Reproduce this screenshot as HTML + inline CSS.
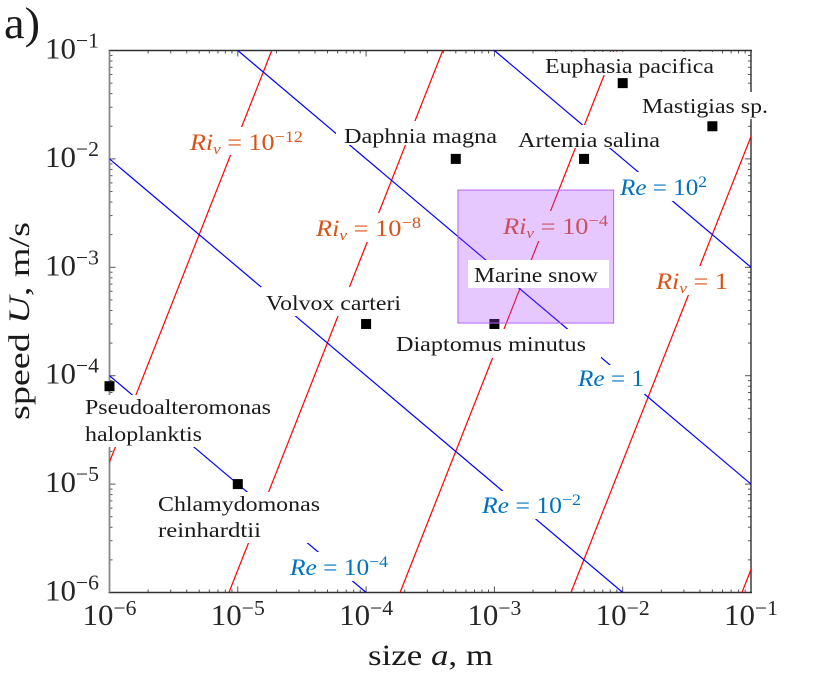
<!DOCTYPE html>
<html>
<head>
<meta charset="utf-8">
<title>Size and speed chart</title>
<style>
html,body{margin:0;padding:0;background:#fff;width:830px;height:677px;overflow:hidden}
svg{display:block}
text{font-family:"Liberation Serif",serif;fill:#1a1a1a}
.sp{font-size:21.5px}
.ri{font-size:23px;fill:#d95319}
.re{font-size:23px;fill:#0072bd}
.tk{font-size:30px;fill:#262626}
.i{font-style:italic}
</style>
</head>
<body>
<svg id="chart" xmlns="http://www.w3.org/2000/svg" width="830" height="677" viewBox="0 0 830 677">
<defs><clipPath id="plot-clip"><rect x="109.5" y="50.5" width="641.5" height="542"/></clipPath></defs>
<rect x="0" y="0" width="830" height="677" fill="#fff"/>
<g id="axes"></g>
<g id="lines" clip-path="url(#plot-clip)"></g>
<g id="masks" fill="#fff">
<rect x="187" y="127" width="118" height="28"/>
<rect x="336" y="121" width="163" height="24"/>
<rect x="516" y="125" width="146" height="23"/>
<rect x="543" y="52" width="173" height="23"/>
<rect x="640" y="92" width="130" height="27"/>
<rect x="619" y="172" width="91" height="29"/>
<rect x="314" y="213" width="110" height="29"/>
<rect x="501" y="211" width="109" height="30"/>
<rect x="654" y="266" width="76" height="29"/>
<rect x="576" y="365" width="69" height="29"/>
<rect x="480" y="491" width="103" height="28"/>
<rect x="288" y="552" width="102" height="29"/>
<rect x="157" y="492" width="165" height="51"/>
<rect x="83" y="395" width="190" height="52"/>
<rect x="261" y="287" width="142" height="29"/>
<rect x="393" y="329" width="208" height="29"/>
</g>
<g id="points"></g>
<g id="labels">
<text class="sp" x="344" y="143" textLength="153" lengthAdjust="spacingAndGlyphs">Daphnia magna</text>
<text class="sp" x="518" y="147" textLength="142" lengthAdjust="spacingAndGlyphs">Artemia salina</text>
<text class="sp" x="545" y="73" textLength="169" lengthAdjust="spacingAndGlyphs">Euphasia pacifica</text>
<text class="sp" x="642" y="113" textLength="126" lengthAdjust="spacingAndGlyphs">Mastigias sp.</text>
<text class="sp" x="266" y="310" textLength="135" lengthAdjust="spacingAndGlyphs">Volvox carteri</text>
<text class="sp" x="396" y="351" textLength="190" lengthAdjust="spacingAndGlyphs">Diaptomus minutus</text>
<text class="sp" x="85" y="414" textLength="186" lengthAdjust="spacingAndGlyphs">Pseudoalteromonas</text>
<text class="sp" x="85" y="441" textLength="117" lengthAdjust="spacingAndGlyphs">haloplanktis</text>
<text class="sp" x="158" y="511" textLength="162" lengthAdjust="spacingAndGlyphs">Chlamydomonas</text>
<text class="sp" x="158" y="537" textLength="103" lengthAdjust="spacingAndGlyphs">reinhardtii</text>

<text class="ri" x="190" y="150" textLength="113" lengthAdjust="spacingAndGlyphs"><tspan class="i">Ri</tspan><tspan class="i" font-size="15" dy="4">v</tspan><tspan dy="-4"> = 10</tspan><tspan font-size="16" dy="-8">−12</tspan></text>
<text class="ri" x="316" y="236" textLength="105" lengthAdjust="spacingAndGlyphs"><tspan class="i">Ri</tspan><tspan class="i" font-size="15" dy="4">v</tspan><tspan dy="-4"> = 10</tspan><tspan font-size="16" dy="-8">−8</tspan></text>
<text class="ri" x="503" y="234" textLength="105" lengthAdjust="spacingAndGlyphs"><tspan class="i">Ri</tspan><tspan class="i" font-size="15" dy="4">v</tspan><tspan dy="-4"> = 10</tspan><tspan font-size="16" dy="-8">−4</tspan></text>
<text class="ri" x="656" y="289" textLength="72" lengthAdjust="spacingAndGlyphs"><tspan class="i">Ri</tspan><tspan class="i" font-size="15" dy="4">v</tspan><tspan dy="-4"> = 1</tspan></text>
<text class="re" x="620" y="195" textLength="87" lengthAdjust="spacingAndGlyphs"><tspan class="i">Re</tspan> = 10<tspan font-size="16" dy="-8">2</tspan></text>
<text class="re" x="578" y="386" textLength="66" lengthAdjust="spacingAndGlyphs"><tspan class="i">Re</tspan> = 1</text>
<text class="re" x="482" y="513" textLength="99" lengthAdjust="spacingAndGlyphs"><tspan class="i">Re</tspan> = 10<tspan font-size="16" dy="-8">−2</tspan></text>
<text class="re" x="290" y="575" textLength="98" lengthAdjust="spacingAndGlyphs"><tspan class="i">Re</tspan> = 10<tspan font-size="16" dy="-8">−4</tspan></text>
</g>
<g id="region"></g>
<rect x="468" y="260" width="141" height="28" fill="#fff"/>
<text class="sp" x="474" y="282" textLength="124" lengthAdjust="spacingAndGlyphs">Marine snow</text>
<text x="4" y="38" font-size="44" textLength="36" lengthAdjust="spacingAndGlyphs">a)</text>
<text x="368" y="665" font-size="30" textLength="125" lengthAdjust="spacingAndGlyphs">size <tspan class="i">a</tspan>, m</text>
<text transform="translate(29,420) rotate(-90)" x="0" y="0" font-size="30" textLength="198" lengthAdjust="spacingAndGlyphs">speed <tspan class="i">U</tspan>, m/s</text>
</svg>
<script>
var xDecades = [-6, -5, -4, -3, -2, -1];
var yDecades = [-6, -5, -4, -3, -2, -1];
var minorMultipliers = [2, 3, 4, 5, 6, 7, 8, 9];

var reStartSizes = [1e-6, 1e-6, 1e-5, 1e-3];
var reStartSpeeds = [1e-4, 1e-2, 1e-1, 1e-1];
var reEndSizes = [1e-4, 1e-2, 1e-1, 1e-1];
var reEndSpeeds = [1e-6, 1e-6, 1e-5, 1e-3];

var riStartSizes = [3.97e-7, 8.53e-6, 1.84e-4, 3.95e-3, 8.5e-2];
var riStartSpeeds = [1e-6, 1e-6, 1e-6, 1e-6, 1e-6];
var riEndSizes = [1.84e-5, 3.96e-4, 8.53e-3, 1.84e-1, 3.96];
var riEndSpeeds = [1e-1, 1e-1, 1e-1, 1e-1, 1e-1];

var organismNames = ["daphnia", "artemia", "euphasia", "mastigias", "volvox", "diaptomus", "pseudoalteromonas", "chlamydomonas"];
var organismSizes = [5e-4, 5e-3, 1e-2, 5e-2, 1e-4, 1e-3, 1e-6, 1e-5];
var organismSpeeds = [1e-2, 1e-2, 5e-2, 2e-2, 3e-4, 3e-4, 8e-5, 1e-5];

var marineSnowSizes = [5.2e-4, 8.5e-3];
var marineSnowSpeeds = [3.06e-4, 5.16e-3];

var NS = "http://www.w3.org/2000/svg";
function xScale(a) { return 109.5 + (Math.log10(a) + 6) * 128.3; }
function yScale(u) { return 592.5 - (Math.log10(u) + 6) * 108.4; }
function make(tag, parentId) {
  var el = document.createElementNS(NS, tag);
  document.getElementById(parentId).appendChild(el);
  return el;
}
function drawLine(x1, y1, x2, y2, color, width, parentId) {
  var el = make("line", parentId);
  el.setAttribute("x1", x1);
  el.setAttribute("y1", y1);
  el.setAttribute("x2", x2);
  el.setAttribute("y2", y2);
  el.setAttribute("stroke", color);
  el.setAttribute("stroke-width", width);
  return el;
}
function tickLabel(exp, x, y, anchor, supDy, parentId) {
  var t = make("text", parentId);
  t.setAttribute("class", "tk");
  t.setAttribute("x", x);
  t.setAttribute("y", y);
  t.setAttribute("text-anchor", anchor);
  t.setAttribute("textLength", 54);
  t.setAttribute("lengthAdjust", "spacingAndGlyphs");
  t.appendChild(document.createTextNode("10"));
  var s = document.createElementNS(NS, "tspan");
  s.setAttribute("font-size", "21");
  s.setAttribute("dy", supDy);
  s.textContent = "\u2212" + Math.abs(exp);
  t.appendChild(s);
  return t;
}

var gridColor = "#303030";
var left = xScale(1e-6), right = xScale(1e-1), top_ = yScale(1e-1), bottom = yScale(1e-6);

xDecades.forEach(function (d) {
  var pos = Math.pow(10, d);
  var major = [xScale(pos)];
  major.forEach(function (x) {
    var a = drawLine(x, bottom, x, bottom - 6, "#555", 1, "axes");
    
    
    var b = drawLine(x, top_, x, top_ + 6, "#555", 1, "axes");
    
    
  });
  var lab = tickLabel(d, xScale(pos), 625, "middle", -10, "axes");
  
  
  if (d < -1) {
    minorMultipliers.forEach(function (m) {
      var x = xScale(m * pos);
      var a = drawLine(x, bottom, x, bottom - 3, "#555", 1, "axes");
      
      
      var b = drawLine(x, top_, x, top_ + 3, "#555", 1, "axes");
      
      
    });
  }
});
yDecades.forEach(function (d) {
  var pos = Math.pow(10, d);
  var y = yScale(pos);
  var a = drawLine(left, y, left + 6, y, "#555", 1, "axes");
  
  
  var b = drawLine(right, y, right - 6, y, "#555", 1, "axes");
  
  
  var lab = tickLabel(d, 99, y + 8, "end", -11, "axes");
  
  
  if (d < -1) {
    minorMultipliers.forEach(function (m) {
      var ym = yScale(m * pos);
      var c = drawLine(left, ym, left + 3, ym, "#555", 1, "axes");
      
      
      var e = drawLine(right, ym, right - 3, ym, "#555", 1, "axes");
      
      
    });
  }
});
var spineTop = drawLine(left - 1, top_, right + 1, top_, gridColor, 1.4, "axes");


var spineRight = drawLine(right, top_, right, bottom, gridColor, 1.4, "axes");


var spineBottom = drawLine(left - 1, bottom, right + 1, bottom, gridColor, 1.6, "axes");


var spineLeft = drawLine(left, top_, left, bottom, "#888", 1.8, "axes");



riStartSizes.forEach(function (a, i) {
  var l = drawLine(xScale(a), yScale(riStartSpeeds[i]), xScale(riEndSizes[i]), yScale(riEndSpeeds[i]), "#ff0000", 1.2, "lines");
  
  
});
reStartSizes.forEach(function (a, i) {
  var l = drawLine(xScale(a), yScale(reStartSpeeds[i]), xScale(reEndSizes[i]), yScale(reEndSpeeds[i]), "#0000ff", 1.2, "lines");
  
  
});

organismSizes.forEach(function (a, i) {
  var r = make("rect", "points");
  r.setAttribute("x", xScale(a) - 5);
  r.setAttribute("y", yScale(organismSpeeds[i]) - 5);
  r.setAttribute("width", 10);
  r.setAttribute("height", 10);
  r.setAttribute("fill", "#000");
  
  
});

var snow = make("rect", "region");
snow.setAttribute("x", xScale(marineSnowSizes[0]));
snow.setAttribute("y", yScale(marineSnowSpeeds[1]));
snow.setAttribute("width", xScale(marineSnowSizes[1]) - xScale(marineSnowSizes[0]));
snow.setAttribute("height", yScale(marineSnowSpeeds[0]) - yScale(marineSnowSpeeds[1]));
snow.setAttribute("fill", "#ac48ff");
snow.setAttribute("fill-opacity", "0.3");
snow.setAttribute("stroke", "#b565f0");
snow.setAttribute("stroke-width", "1");


</script>
</body>
</html>
